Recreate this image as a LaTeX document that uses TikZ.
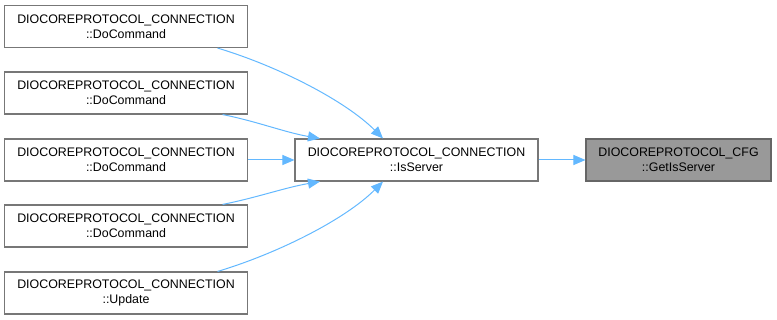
\documentclass[tikz,border=0pt]{standalone}
\usepackage{fontspec}
\setmainfont{Liberation Sans}
\usetikzlibrary{arrows.meta}
\definecolor{edgeblue}{HTML}{63B8FF}
\definecolor{boxline}{HTML}{777777}
\definecolor{curfill}{HTML}{999999}
\definecolor{curline}{HTML}{666666}
\begin{document}
\begin{tikzpicture}[x=1pt,y=-1pt,
  fn/.style={draw=boxline, line width=1.1pt, fill=white, inner sep=0pt,
    minimum width=243pt, minimum height=42pt, align=center,
    font=\fontsize{12.4}{15}\selectfont},
  cur/.style={fn, fill=curfill, draw=curline, minimum width=185pt},
  call/.style={draw=edgeblue, line width=1pt,
    -{Triangle[length=12pt,width=10pt]}}]
\useasboundingbox (0,0) rectangle (777,320);

% callers
\node[fn] (a1) at (126,26.5) {DIOCOREPROTOCOL\_CONNECTION\\::DoCommand};
\node[fn] (a2) at (126,93) {DIOCOREPROTOCOL\_CONNECTION\\::DoCommand};
\node[fn] (a3) at (126,160) {DIOCOREPROTOCOL\_CONNECTION\\::DoCommand};
\node[fn] (a4) at (126,226) {DIOCOREPROTOCOL\_CONNECTION\\::DoCommand};
\node[fn] (a5) at (126,293) {DIOCOREPROTOCOL\_CONNECTION\\::Update};

% callee chain
\node[fn] (m) at (416.5,160) {DIOCOREPROTOCOL\_CONNECTION\\::IsServer};
\node[cur] (g) at (678.5,160) {DIOCOREPROTOCOL\_CFG\\::GetIsServer};

% call edges
\draw[call] ([xshift=-30.5pt]a1.south east)
  .. controls +(60,18) and +(-38,-38) .. ([xshift=-33.5pt]m.north);
\draw[call] ([xshift=-25.5pt]a2.south east)
  .. controls +(35,7) and +(-35,-6) .. ([xshift=-96.5pt]m.north);
\draw[call] (a3.east) -- (m.west);
\draw[call] ([xshift=-25.5pt]a4.north east)
  .. controls +(35,-7) and +(-35,6) .. ([xshift=-96.5pt]m.south);
\draw[call] ([xshift=-30.5pt]a5.north east)
  .. controls +(60,-18) and +(-38,38) .. ([xshift=-33.5pt]m.south);
\draw[call] (m.east) -- (g.west);
\end{tikzpicture}
\end{document}
